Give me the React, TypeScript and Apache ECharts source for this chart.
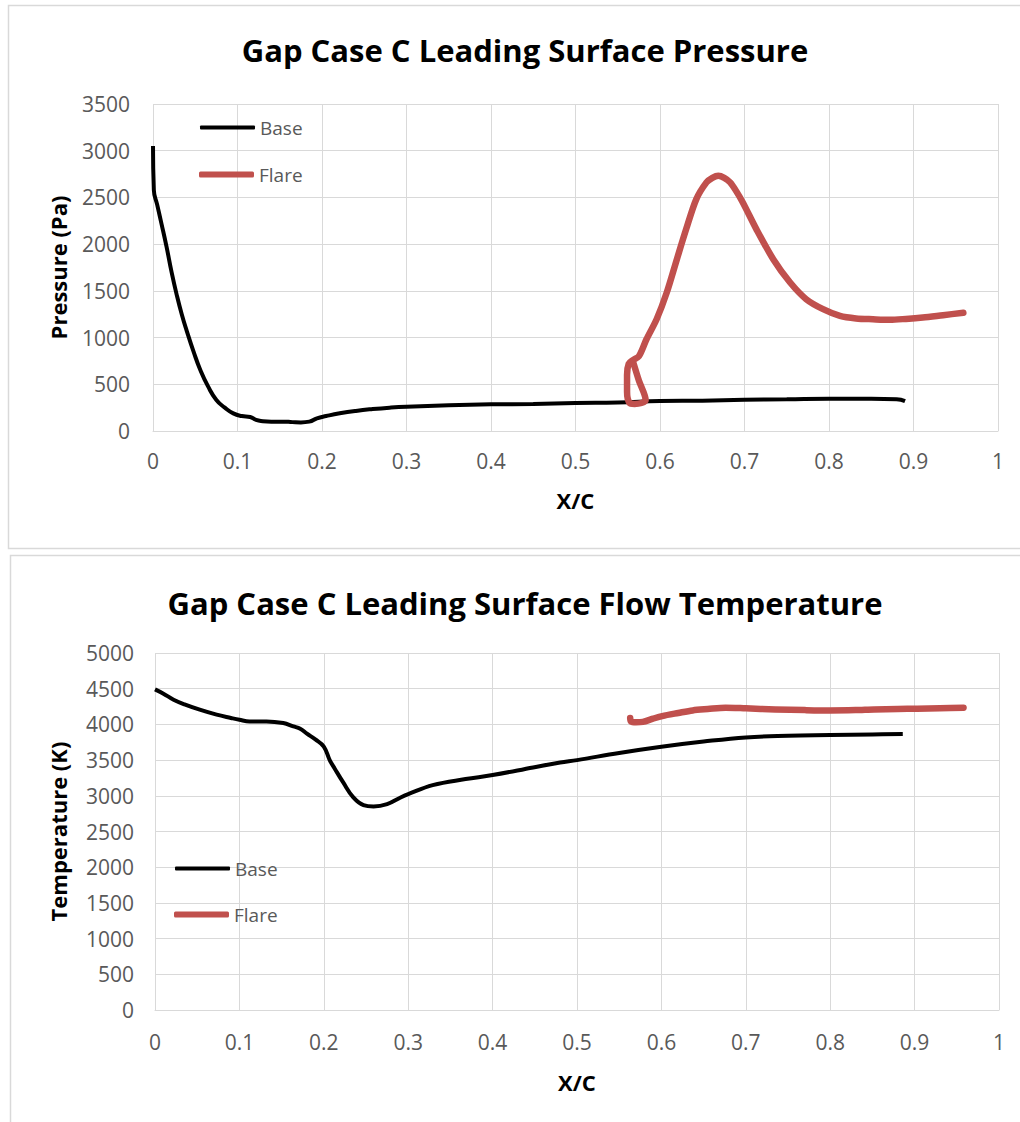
import React, { useEffect, useRef } from "react";
import * as echarts from "echarts";

// ---------- Data ----------
const xTicks = [0, 0.1, 0.2, 0.3, 0.4, 0.5, 0.6, 0.7, 0.8, 0.9, 1];

const basePressureX = [0, 0.001, 0.005, 0.01, 0.016, 0.022, 0.028, 0.034, 0.04, 0.048, 0.056, 0.065, 0.075, 0.085, 0.095, 0.105, 0.115, 0.122, 0.13, 0.14, 0.154, 0.165, 0.175, 0.185, 0.194, 0.205, 0.221, 0.24, 0.26, 0.28, 0.3, 0.35, 0.4, 0.45, 0.5, 0.55, 0.6, 0.65, 0.7, 0.75, 0.8, 0.85, 0.88, 0.89];
const basePressureY = [3050, 2580, 2420, 2220, 1973, 1700, 1460, 1250, 1070, 850, 653, 480, 332, 250, 189, 160, 150, 118, 105, 100, 100, 95, 92, 100, 136, 160, 189, 215, 235, 250, 260, 275, 285, 290, 300, 305, 320, 325, 335, 340, 345, 345, 340, 320];

const flarePressureX = [0.568, 0.575, 0.583, 0.578, 0.57, 0.564, 0.561, 0.561, 0.563, 0.568, 0.575, 0.584, 0.596, 0.608, 0.62, 0.631, 0.643, 0.655, 0.662, 0.669, 0.676, 0.683, 0.69, 0.698, 0.714, 0.734, 0.754, 0.773, 0.793, 0.813, 0.832, 0.852, 0.872, 0.891, 0.911, 0.935, 0.959];
const flarePressureY = [745, 540, 330, 300, 290, 300, 420, 600, 720, 760, 800, 982, 1196, 1482, 1839, 2161, 2482, 2661, 2710, 2732, 2710, 2661, 2570, 2446, 2161, 1839, 1589, 1411, 1304, 1232, 1205, 1196, 1190, 1200, 1215, 1240, 1265];

const baseTempX = [0, 0.01, 0.022, 0.035, 0.053, 0.073, 0.09, 0.1, 0.112, 0.132, 0.152, 0.164, 0.172, 0.18, 0.19, 0.2, 0.207, 0.213, 0.223, 0.235, 0.247, 0.259, 0.275, 0.291, 0.3, 0.329, 0.368, 0.4, 0.448, 0.48, 0.5, 0.55, 0.6, 0.65, 0.7, 0.75, 0.8, 0.85, 0.886];
const baseTempY = [4490, 4430, 4346, 4280, 4206, 4136, 4090, 4065, 4042, 4042, 4019, 3972, 3940, 3870, 3790, 3690, 3500, 3380, 3187, 2977, 2869, 2850, 2883, 2977, 3023, 3150, 3234, 3290, 3397, 3467, 3500, 3600, 3687, 3760, 3818, 3840, 3850, 3860, 3865];

const flareTempX = [0.563, 0.564, 0.57, 0.578, 0.59, 0.601, 0.62, 0.637, 0.655, 0.676, 0.7, 0.735, 0.77, 0.8, 0.83, 0.852, 0.88, 0.903, 0.93, 0.958];
const flareTempY = [4090, 4040, 4030, 4035, 4080, 4117, 4160, 4196, 4215, 4234, 4225, 4210, 4200, 4195, 4200, 4210, 4215, 4220, 4225, 4234];

const seriesNames = ["Base", "Flare"];
const titles = ["Gap Case C Leading Surface Pressure", "Gap Case C Leading Surface Flow Temperature"];
const yNames = ["Pressure (Pa)", "Temperature (K)"];
const xName = "X/C";

const zip = (xs: number[], ys: number[]) => xs.map((x, i) => [x, ys[i]]);

const FONT = "'Open Sans', sans-serif";
const GRAY = "#595959";
const GRID_LINE = "#D9D9D9";
const RED = "#C0504D";

export default function App() {
  const ref = useRef<HTMLDivElement>(null);

  useEffect(() => {
    if (!ref.current) return;
    const chart = echarts.init(ref.current, undefined, { renderer: "svg" });

    const xAxisBase = (gridIndex: number, nameGap: number, margin: number) => ({
      type: "value",
      gridIndex,
      min: 0,
      max: 1,
      interval: 0.1,
      name: xName,
      nameLocation: "middle",
      nameGap,
      nameTextStyle: { fontFamily: FONT, fontSize: 22, fontWeight: "bold", color: "#000" },
      axisLine: { show: true, lineStyle: { color: GRID_LINE, width: 1 } },
      axisTick: { show: false },
      splitLine: { show: true, lineStyle: { color: GRID_LINE, width: 1 } },
      axisLabel: {
        fontFamily: FONT,
        fontSize: 21,
        color: GRAY,
        margin,
        formatter: (v: number) => String(Math.round(v * 10) / 10),
      },
    });

    const yAxisBase = (gridIndex: number, max: number, name: string, nameGap: number, margin: number) => ({
      type: "value",
      gridIndex,
      min: 0,
      max,
      interval: 500,
      name,
      nameLocation: "middle",
      nameGap,
      nameRotate: 90,
      nameTextStyle: { fontFamily: FONT, fontSize: 22, fontWeight: "bold", color: "#000" },
      axisLine: { show: false },
      axisTick: { show: false },
      splitLine: { show: true, lineStyle: { color: GRID_LINE, width: 1 } },
      axisLabel: {
        fontFamily: FONT,
        fontSize: 21,
        color: GRAY,
        margin,
        formatter: (v: number) => String(v),
      },
    });

    const legendItem = (name: string, left: number, top: number, h: number, color: string) => ({
      data: [{ name, icon: "roundRect", itemStyle: { color } }],
      left,
      top,
      itemWidth: 55,
      itemHeight: h,
      padding: 0,
      textStyle: { fontFamily: FONT, fontSize: 19, color: GRAY },
    });

    chart.setOption({
      animation: false,
      backgroundColor: "#fff",
      title: [
        {
          text: titles[0],
          left: 520,
          top: 29,
          textAlign: "center",
          textStyle: { fontFamily: FONT, fontSize: 31, fontWeight: "bold", color: "#000" },
        },
        {
          text: titles[1],
          left: 520,
          top: 582,
          textAlign: "center",
          textStyle: { fontFamily: FONT, fontSize: 31, fontWeight: "bold", color: "#000" },
        },
      ],
      graphic: [
        {
          type: "rect",
          shape: { x: 8.5, y: 5.5, width: 1030, height: 543 },
          style: { fill: "none", stroke: GRID_LINE, lineWidth: 1.5 },
          silent: true,
          z: -1,
        },
        {
          type: "rect",
          shape: { x: 10.5, y: 555.5, width: 1030, height: 600 },
          style: { fill: "none", stroke: GRID_LINE, lineWidth: 1.5 },
          silent: true,
          z: -1,
        },
      ],
      legend: [
        legendItem(seriesNames[0], 200, 118, 4, "#000"),
        legendItem(seriesNames[1], 199, 165, 6, RED),
        legendItem(seriesNames[0], 175, 859, 4, "#000"),
        legendItem(seriesNames[1], 174, 905, 6, RED),
      ],
      grid: [
        { left: 153, top: 104, width: 845, height: 327 },
        { left: 155, top: 653, width: 844, height: 357 },
      ],
      xAxis: [xAxisBase(0, 58, 19), xAxisBase(1, 61, 21)],
      yAxis: [
        yAxisBase(0, 3500, yNames[0], 84, 23),
        yAxisBase(1, 5000, yNames[1], 86, 21),
      ],
      series: [
        {
          name: seriesNames[0],
          type: "line",
          xAxisIndex: 0,
          yAxisIndex: 0,
          data: zip(basePressureX, basePressureY),
          symbol: "none",
          smooth: 0.5,
          lineStyle: { color: "#000", width: 4 },
          itemStyle: { color: "#000" },
          z: 3,
        },
        {
          name: seriesNames[1],
          type: "line",
          xAxisIndex: 0,
          yAxisIndex: 0,
          data: zip(flarePressureX, flarePressureY),
          symbol: "none",
          smooth: 0.3,
          lineStyle: { color: RED, width: 6.5, cap: "round", join: "round" },
          itemStyle: { color: RED },
          z: 4,
        },
        {
          name: seriesNames[0],
          type: "line",
          xAxisIndex: 1,
          yAxisIndex: 1,
          data: zip(baseTempX, baseTempY),
          symbol: "none",
          smooth: 0.4,
          lineStyle: { color: "#000", width: 4 },
          itemStyle: { color: "#000" },
          z: 3,
        },
        {
          name: seriesNames[1],
          type: "line",
          xAxisIndex: 1,
          yAxisIndex: 1,
          data: zip(flareTempX, flareTempY),
          symbol: "none",
          smooth: 0.3,
          lineStyle: { color: RED, width: 6.5, cap: "round", join: "round" },
          itemStyle: { color: RED },
          z: 4,
        },
      ],
    });

    return () => chart.dispose();
  }, []);

  return (
    <div
      ref={ref}
      style={{ position: "absolute", left: 0, top: 0, width: 1020, height: 1122 }}
    />
  );
}
